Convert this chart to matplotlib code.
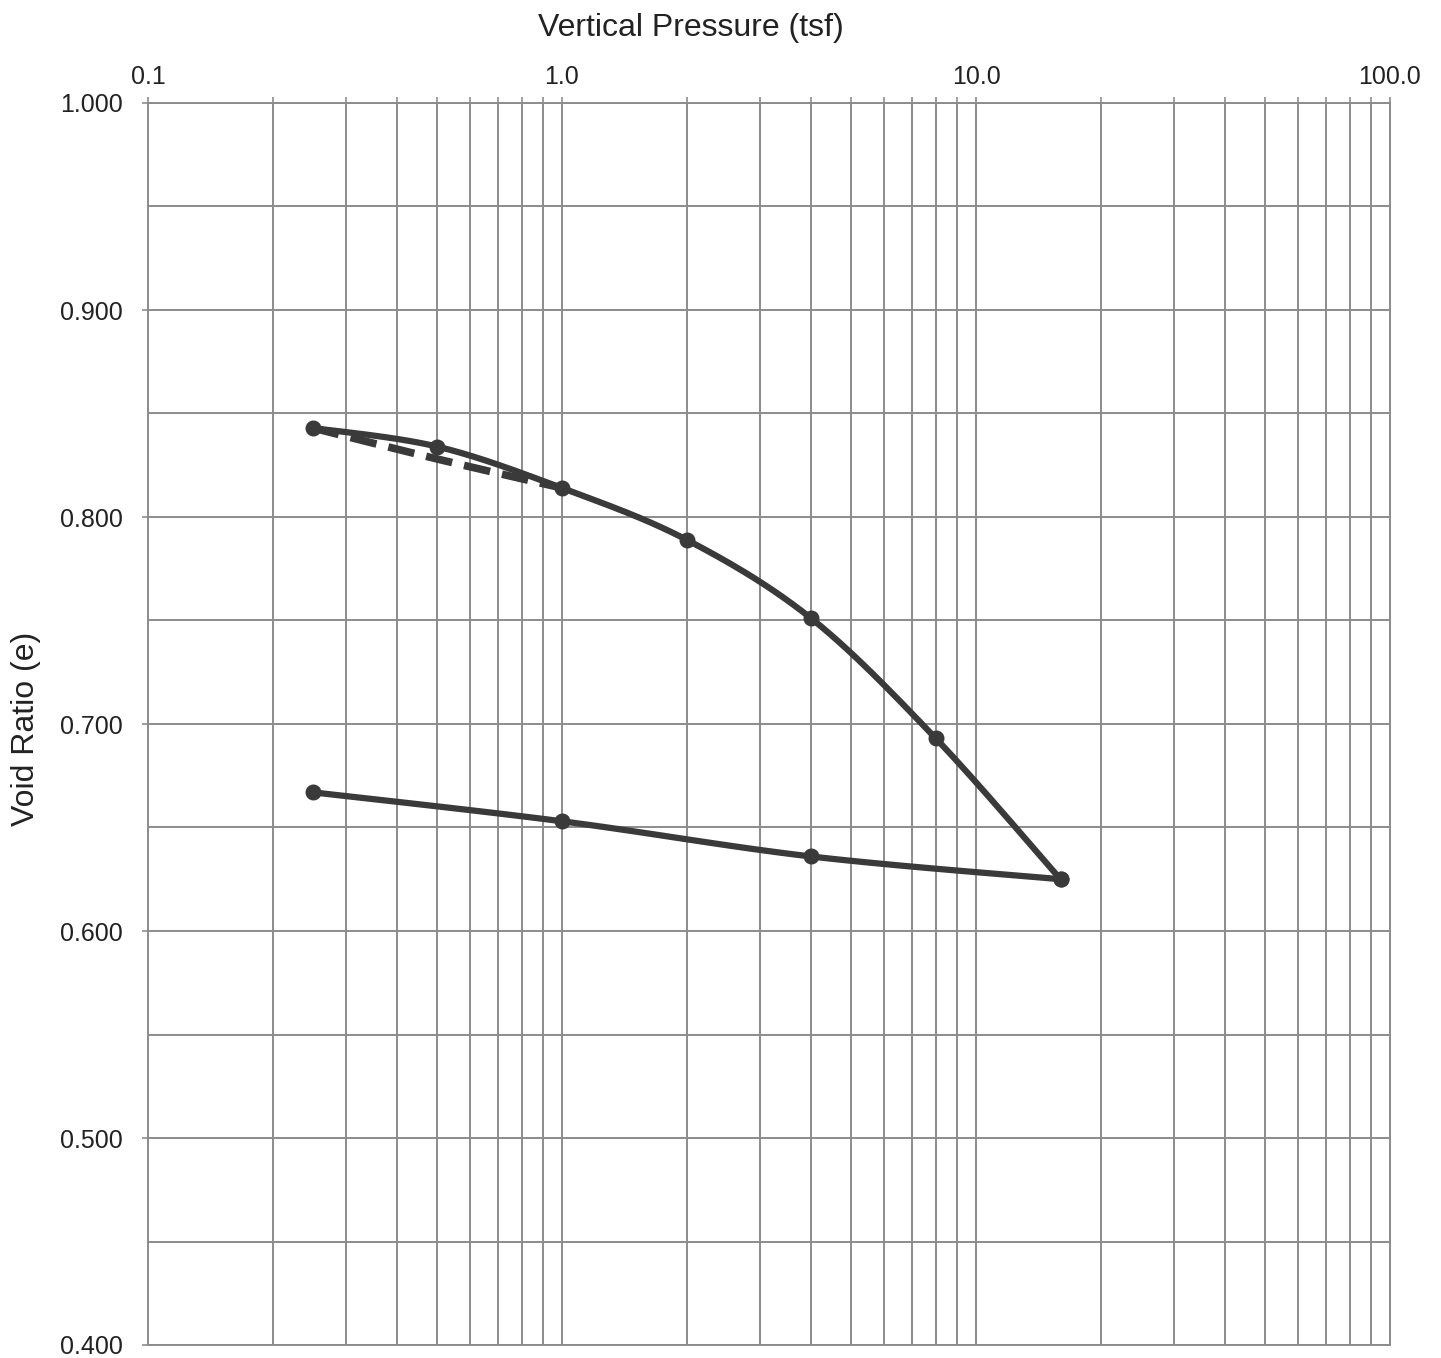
import numpy as np
import matplotlib
matplotlib.use("Agg")
import matplotlib.pyplot as plt
from matplotlib.ticker import FixedLocator, FixedFormatter, NullFormatter

plt.rcParams['font.family'] = ['Liberation Sans', 'DejaVu Sans']

# dados
carga_p = [0.25, 0.5, 1.0, 2.0, 4.0, 8.0, 16.0]
carga_e = [0.843, 0.834, 0.814, 0.789, 0.751, 0.693, 0.625]

descarga_p = [16.0, 4.0, 1.0, 0.25]
descarga_e = [0.625, 0.636, 0.653, 0.667]

tracejada_p = [0.25, 0.5, 1.0]
tracejada_e = [0.843, 0.828, 0.814]

x_labels = ["0.1", "1.0", "10.0", "100.0"]
y_labels = ["1.000", "0.900", "0.800", "0.700", "0.600", "0.500", "0.400"]

COR = "#3a3a3a"
GRADE = "#8c8c8c"


def suavizar(px, py, n=40):
    # curva suavizada estilo Excel (Bezier / Catmull-Rom) no espaco do grafico
    u = np.log10(px) / 3.0
    v = (np.array(py) - 0.4) / 0.6
    pts = np.column_stack([u, v])
    ext = np.vstack([pts[0], pts, pts[-1]])
    out = []
    for i in range(len(pts) - 1):
        p0, p1, p2, p3 = ext[i], ext[i + 1], ext[i + 2], ext[i + 3]
        c1 = p1 + (p2 - p0) / 6.0
        c2 = p2 - (p3 - p1) / 6.0
        t = np.linspace(0, 1, n)[:, None]
        seg = ((1 - t) ** 3 * p1 + 3 * (1 - t) ** 2 * t * c1
               + 3 * (1 - t) * t ** 2 * c2 + t ** 3 * p2)
        out.append(seg if i == 0 else seg[1:])
    out = np.vstack(out)
    return 10 ** (out[:, 0] * 3.0), out[:, 1] * 0.6 + 0.4


fig = plt.figure(figsize=(14.41, 13.58), dpi=100)
ax = fig.add_axes([148 / 1441, 1 - 1345 / 1358, 1242 / 1441, 1242 / 1358])

ax.set_xscale('log')
ax.set_xlim(0.1, 100)
ax.set_ylim(0.4, 1.0)

# grade
ax.xaxis.set_major_locator(FixedLocator([0.1, 1, 10, 100]))
ax.xaxis.set_major_formatter(FixedFormatter(x_labels))
minors = [m * d for d in (0.1, 1, 10) for m in range(2, 10)]
ax.xaxis.set_minor_locator(FixedLocator(minors))
ax.xaxis.set_minor_formatter(NullFormatter())
ax.yaxis.set_major_locator(FixedLocator([1.0, 0.9, 0.8, 0.7, 0.6, 0.5, 0.4]))
ax.yaxis.set_major_formatter(FixedFormatter(y_labels))
ax.yaxis.set_minor_locator(FixedLocator(np.arange(0.45, 1.0, 0.1)))

ax.grid(True, which='both', color=GRADE, linewidth=1.4)
ax.set_axisbelow(True)
for s in ax.spines.values():
    s.set_color(GRADE)
    s.set_linewidth(1.4)

ax.xaxis.tick_top()
ax.xaxis.set_label_position('top')
ax.tick_params(axis='both', which='both', colors=GRADE, labelcolor='#222222',
               labelsize=18, length=4, width=1.2)
ax.tick_params(axis='x', which='both', direction='out', pad=6)
ax.tick_params(axis='y', which='major', pad=14)
ax.tick_params(axis='y', which='minor', length=0)

ax.set_xlabel('Vertical Pressure (tsf)', fontsize=23, color='#222222')
ax.xaxis.set_label_coords(0.437, 1.054)
ax.set_ylabel('Void Ratio (e)', fontsize=23, color='#222222')
ax.yaxis.set_label_coords(-0.086, 0.496)

# curvas
sx, sy = suavizar(tracejada_p, tracejada_e)
ax.plot(sx, sy, color=COR, lw=5.5, ls=(0, (3.5, 1.6)), zorder=3)

sx, sy = suavizar(carga_p, carga_e)
ax.plot(sx, sy, color=COR, lw=4.5, solid_capstyle='round', zorder=4)
ax.plot(carga_p, carga_e, 'o', color=COR, ms=10.5, zorder=5)

sx, sy = suavizar(descarga_p, descarga_e)
ax.plot(sx, sy, color=COR, lw=4.5, solid_capstyle='round', zorder=4)
ax.plot(descarga_p, descarga_e, 'o', color=COR, ms=10.5, zorder=5)

plt.savefig('out.png', dpi=100)
